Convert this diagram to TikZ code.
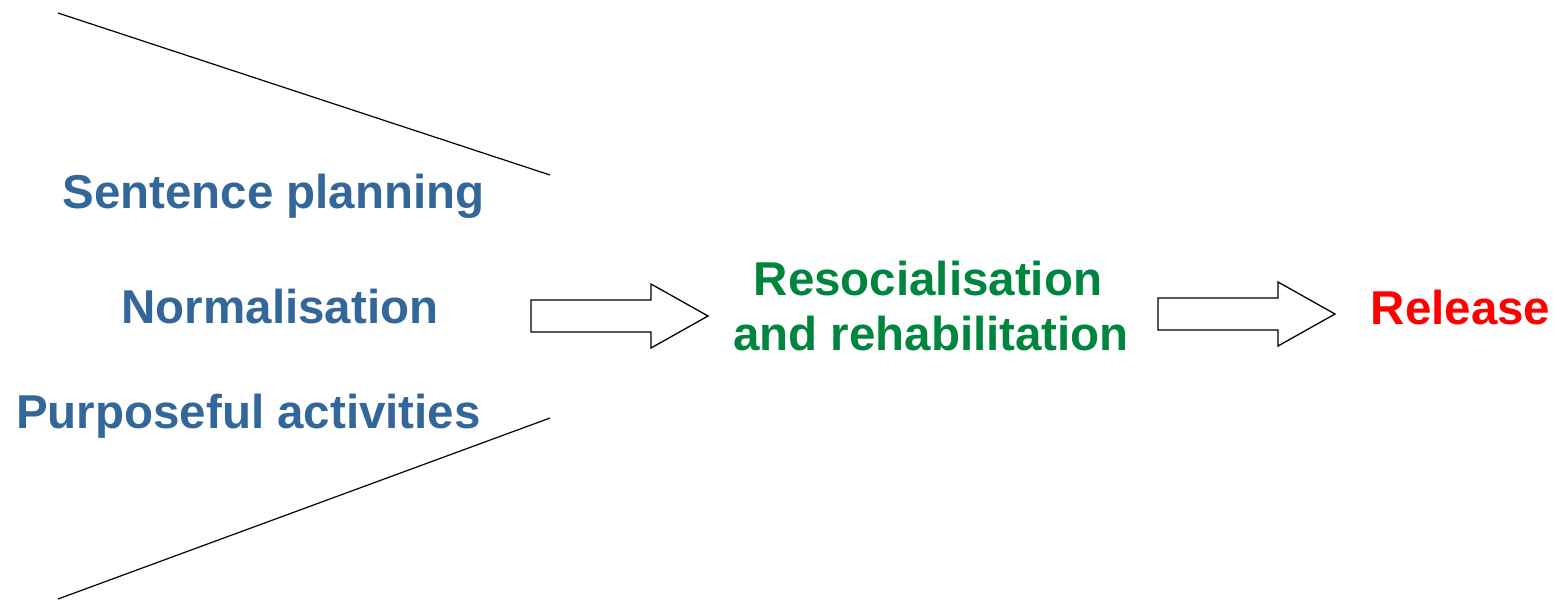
\documentclass[tikz,border=0pt]{standalone}
\usepackage{fontspec}
\setmainfont{Liberation Sans}
\definecolor{tblue}{RGB}{51,102,153}
\definecolor{tgreen}{RGB}{0,133,62}
\definecolor{tred}{RGB}{255,0,0}
\begin{document}
\begin{tikzpicture}[x=1pt,y=-1pt,
  lbl/.style={inner sep=0pt,anchor=base,font=\fontsize{47.5}{50}\selectfont\bfseries},
  blockarrow/.style={draw=black,fill=white,line width=1.3pt,line join=miter},
  thinline/.style={draw=black,line width=1.2pt}]
\useasboundingbox (0,0) rectangle (1562,606);
% text nodes
\node[lbl,text=tblue] (sp) at (273.5,208) {Sentence planning};
\node[lbl,text=tblue] (no) at (280,323) {Normalisation};
\node[lbl,text=tblue] (pa) at (248.5,428) {Purposeful activities};
\node[lbl,text=tgreen] (rs) at (928,295) {Resocialisation};
\node[lbl,text=tgreen] (rh) at (931,350) {and rehabilitation};
\node[lbl,text=tred] (re) at (1460.5,324) {Release};
% funnel lines
\coordinate (t1) at (58,13);
\coordinate (t2) at (550,175);
\coordinate (b1) at (550,418);
\coordinate (b2) at (58,599);
\draw[thinline] (t1) -- (t2);
\draw[thinline] (b1) -- (b2);
% block arrow 1
\draw[blockarrow] (531,300) -- (651,300) -- (651,284) -- (708,316) -- (651,348) -- (651,332) -- (531,332) -- cycle;
% block arrow 2
\draw[blockarrow] (1158,298) -- (1278,298) -- (1278,282) -- (1335,314) -- (1278,346) -- (1278,330) -- (1158,330) -- cycle;
\end{tikzpicture}
\end{document}
